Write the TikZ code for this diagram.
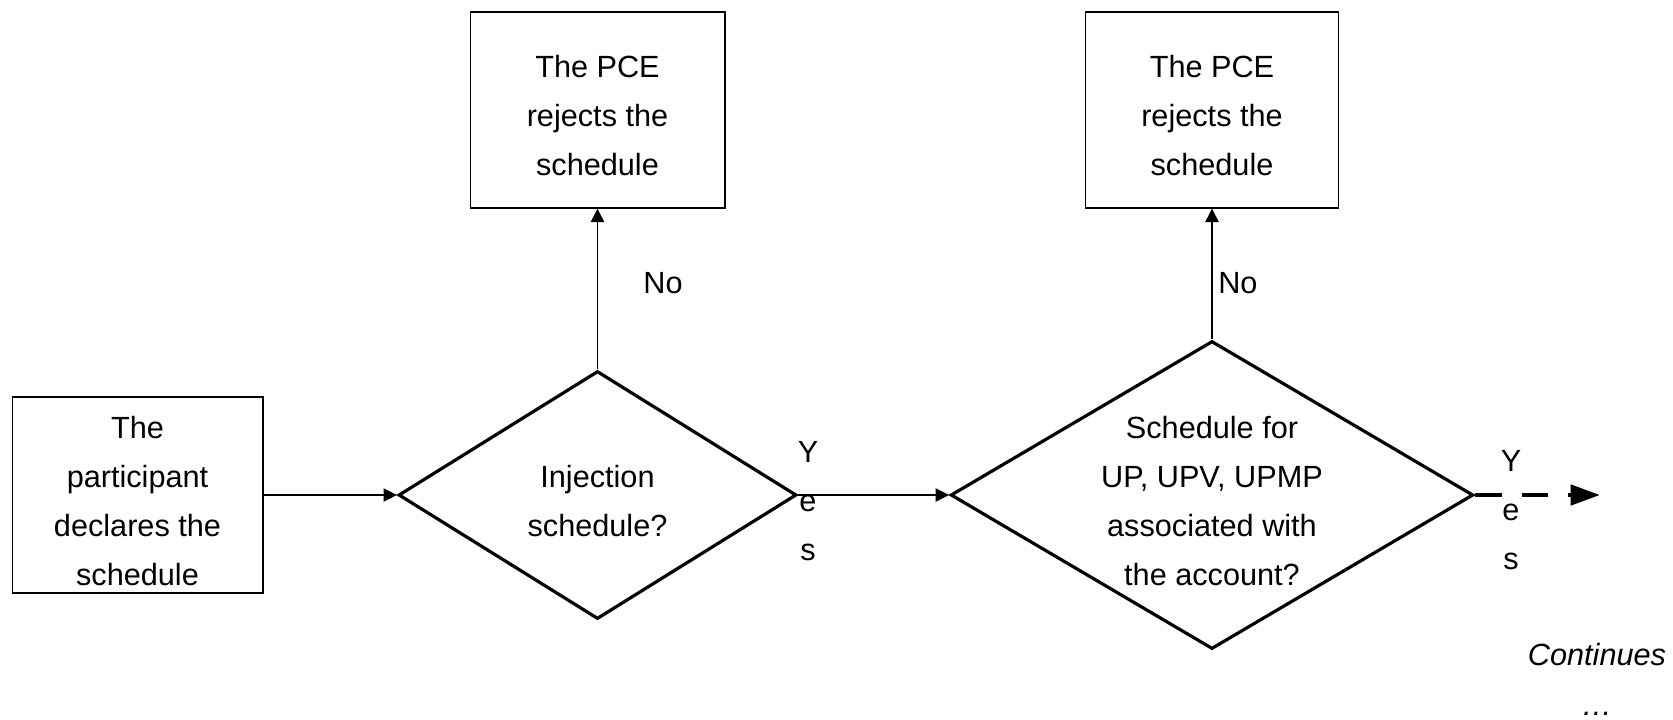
\documentclass[tikz,border=0pt]{standalone}
\usepackage{fontspec}
\setmainfont{Liberation Sans}
\usetikzlibrary{positioning}
\usetikzlibrary{shapes.geometric, arrows.meta}

\begin{document}
\begin{tikzpicture}[x=0.75pt, y=-0.75pt,
    every node/.style={font=\fontsize{23}{36.75}\selectfont},
    caja/.style={draw, line width=1pt, inner sep=0pt},
    rombo/.style={diamond, draw, line width=2.4pt, inner sep=0pt},
    texto/.style={align=center, inner sep=0pt},
    dentro/.style={label={[texto, yshift=-4.2pt]center:{#1}}},
    flecha/.style={-{Triangle[length=10pt,width=10pt]}, line width=0.8pt},
    sigue/.style={-{Triangle[length=22pt,width=15pt]}, line width=3.5pt, dash pattern=on 20pt off 15pt}]
    \useasboundingbox (0,0) rectangle (1673,719);

    % Cajas
    \node[caja, minimum width=188pt, minimum height=147pt, dentro={The\\participant\\declares the\\schedule}] (declara) at (137.5,495) {};
    \node[caja, minimum width=191pt, minimum height=147pt, dentro={The PCE\\rejects the\\schedule}] (rechazo1) at (597.5,110) {};
    \node[caja, minimum width=190pt, minimum height=147pt, dentro={The PCE\\rejects the\\schedule}] (rechazo2) at (1212,110) {};

    % Rombos
    \node[rombo, minimum width=298.5pt, minimum height=186pt, dentro={Injection\\schedule?}] (inyeccion) at (597.5,495) {};
    \node[rombo, minimum width=392pt, minimum height=231pt, dentro={Schedule for\\UP, UPV, UPMP\\associated with\\the account?}] (cuenta) at (1212,495) {};

    % Etiquetas
    \node[texto] (no1) at (663,283) {No};
    \node[texto, anchor=west] (no2) at (1218,283) {No};
    \node[texto, anchor=north] (si1) at (808,441) {Y\\e\\s};
    \node[texto, anchor=north] (si2) at (1511,450) {Y\\e\\s};
    \node[texto, anchor=north, font=\fontsize{23}{37.5}\selectfont\itshape] (continua) at (1597,643) {Continues\\…};

    % Flechas
    \draw[flecha] (declara) -- (inyeccion);
    \draw[flecha] (inyeccion) -- (cuenta);
    \draw[flecha] (inyeccion) -- (rechazo1);
    \draw[flecha] (cuenta) -- (rechazo2);
    \coordinate (fin) at (1600,495);
    \draw[sigue] (cuenta) -- (fin);
\end{tikzpicture}
\end{document}
